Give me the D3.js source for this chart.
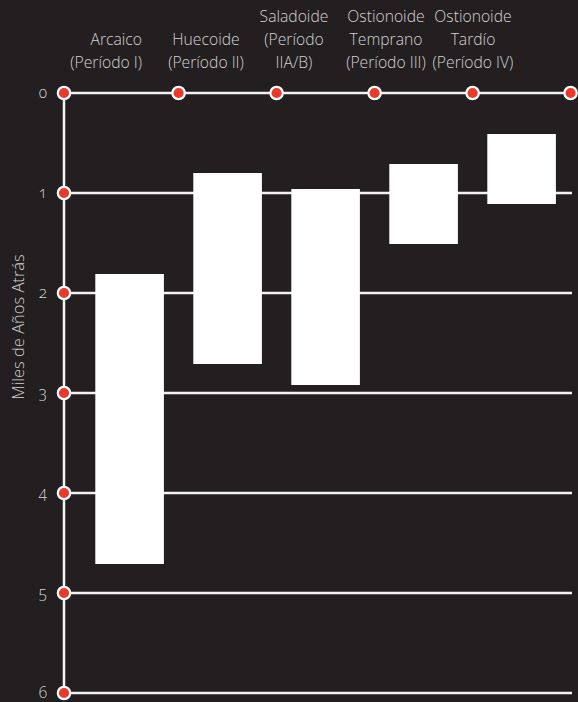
<!DOCTYPE html>
<html lang="es">
<head>
  <meta charset="utf-8" />
  <title>Periodos culturales</title>
  <script src="https://cdn.jsdelivr.net/npm/d3@7"></script>
  <style>
    body { margin: 0; background: #231f20; }
    svg { display: block; }
    text { font-family: "Open Sans", "Noto Sans", sans-serif; font-weight: 300; fill: #d2d2d2; }
    .tick-label { font-variant-numeric: oldstyle-nums; font-feature-settings: "onum"; }
  </style>
</head>
<body>
<script>

// categories (periods), with their label lines
var periods = ["Arcaico", "Huecoide", "Saladoide", "Ostionoide Temprano", "Ostionoide Tardío"];
var periodLines = [
  ["Arcaico", "(Período I)"],
  ["Huecoide", "(Período II)"],
  ["Saladoide", "(Período", "IIA/B)"],
  ["Ostionoide", "Temprano", "(Período III)"],
  ["Ostionoide", "Tardío", "(Período IV)"]
];
// start / end, in thousands of years ago
var startKya = [1.81, 0.80, 0.96, 0.71, 0.41];
var endKya   = [4.71, 2.71, 2.92, 1.51, 1.11];
var yTicks = [0, 1, 2, 3, 4, 5, 6];

var w = 578;
var h = 702;
var axisX = 64;
var gridRight = 572;
var labelX = [142, 206, 294, 386, 473];
var labelAnchor = ["end", "middle", "middle", "middle", "middle"];

var svg = d3.select("body")
            .append("svg")
            .attr("width", w)
            .attr("height", h);

svg.append("rect")
   .attr("width", w)
   .attr("height", h)
   .attr("fill", "#231f20");

var x = d3.scaleBand()
          .domain(periods)
          .range([80.6, 570.6])
          .paddingInner(0.3)
          .paddingOuter(0.15);

var y = d3.scaleLinear()
          .domain([0, 6])
          .range([93, 693]);

// gridlines
svg.selectAll("line.grid")
   .data(yTicks)
   .enter()
   .append("line")
   .attr("class", "grid")
   .attr("x1", axisX)
   .attr("x2", gridRight)
   .attr("y1", function(d) { return y(d); })
   .attr("y2", function(d) { return y(d); })
   .attr("stroke", "#f2f2f2")
   .attr("stroke-width", 2.5);

// vertical axis line
svg.append("line")
   .attr("x1", axisX)
   .attr("x2", axisX)
   .attr("y1", y(0))
   .attr("y2", y(6))
   .attr("stroke", "#f2f2f2")
   .attr("stroke-width", 2.5);

// bars
svg.selectAll("rect.bar")
   .data(periods)
   .enter()
   .append("rect")
   .attr("class", "bar")
   .attr("x", function(d) { return x(d); })
   .attr("width", x.bandwidth())
   .attr("y", function(d, i) { return y(startKya[i]); })
   .attr("height", function(d, i) { return y(endKya[i]) - y(startKya[i]); })
   .attr("fill", "#ffffff");

// dots on the axis
function dot(cx, cy) {
  svg.append("circle")
     .attr("cx", cx)
     .attr("cy", cy)
     .attr("r", 6.2)
     .attr("fill", "#e8392c")
     .attr("stroke", "#ffffff")
     .attr("stroke-width", 2.2);
}
yTicks.forEach(function(t) { dot(axisX, y(t)); });
periods.forEach(function(p) {
  dot(x(p) + x.bandwidth() + x.step() * 0.15, y(0));
});

// tick labels
svg.selectAll("text.tick-label")
   .data(yTicks)
   .enter()
   .append("text")
   .attr("class", "tick-label")
   .attr("x", 47)
   .attr("y", function(d) { return y(d) + 5; })
   .attr("text-anchor", "end")
   .style("font-size", "15.5px")
   .text(function(d) { return d; });

// axis title
svg.append("text")
   .attr("transform", "translate(24,327) rotate(-90)")
   .attr("text-anchor", "middle")
   .style("font-size", "16.5px")
   .text("Miles de Años Atrás");

// period labels (bottom aligned)
var baselines = [22, 45, 68];
periodLines.forEach(function(lines, i) {
  var t = svg.append("text")
             .attr("text-anchor", labelAnchor[i])
             .style("font-size", "15.7px");
  lines.forEach(function(line, j) {
    t.append("tspan")
     .attr("x", labelX[i])
     .attr("y", baselines[baselines.length - lines.length + j])
     .text(line);
  });
});

</script>
</body>
</html>
